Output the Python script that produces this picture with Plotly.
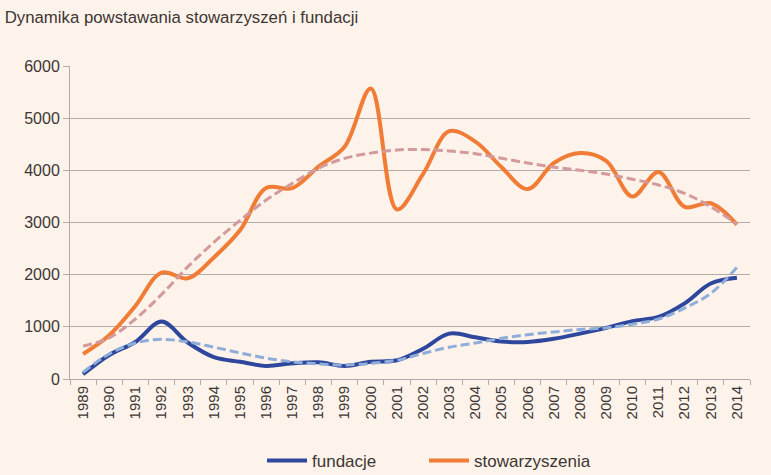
import plotly.graph_objects as go

years = [str(y) for y in range(1989, 2015)]

fundacje = [90, 460, 710, 1100, 700, 420, 330, 250, 300, 320, 250, 330, 360,
            580, 870, 800, 720, 710, 770, 870, 980, 1110, 1190, 1450, 1830, 1940]
stowarzyszenia = [480, 840, 1400, 2040, 1930, 2330, 2850, 3660, 3660, 4070, 4450, 5570, 3250,
                  3930, 4750, 4550, 4060, 3640, 4140, 4330, 4180, 3500, 3970, 3300, 3370, 2960]

trend_fundacje = [130, 480, 690, 760, 710, 610, 500, 400, 330, 290, 270, 300, 360,
                  490, 610, 690, 780, 850, 900, 950, 980, 1050, 1150, 1360, 1640, 2140]
trend_stow = [630, 790, 1150, 1620, 2150, 2620, 3040, 3430, 3750, 4040, 4230, 4330, 4390,
              4400, 4370, 4320, 4230, 4140, 4060, 4000, 3930, 3830, 3720, 3560, 3300, 2970]

BG = "#fdf3eb"
TXT = "#3d3633"
GRID = "#b3aba7"

fig = go.Figure()
fig.add_trace(go.Scatter(x=years, y=fundacje, mode="lines", name="fundacje", legend="legend",
                         line=dict(color="#2e479c", width=4, shape="spline", smoothing=1)))
fig.add_trace(go.Scatter(x=years, y=stowarzyszenia, mode="lines", name="stowarzyszenia", legend="legend2",
                         line=dict(color="#f07c35", width=4, shape="spline", smoothing=1)))
fig.add_trace(go.Scatter(x=years, y=trend_fundacje, mode="lines", showlegend=False,
                         line=dict(color="#8eadd9", width=3, dash="9px,4px", shape="spline", smoothing=1)))
fig.add_trace(go.Scatter(x=years, y=trend_stow, mode="lines", showlegend=False,
                         line=dict(color="#d49a9b", width=3, dash="9px,4px", shape="spline", smoothing=1)))

leg_common = dict(orientation="h", xanchor="left", y=-0.262, yanchor="middle",
                  font=dict(size=17, color=TXT), bgcolor="rgba(0,0,0,0)", itemwidth=40)

fig.update_layout(
    width=771, height=475,
    paper_bgcolor=BG, plot_bgcolor=BG,
    margin=dict(l=70, r=21, t=66, b=96, autoexpand=False),
    font=dict(family="Liberation Sans, Arial, sans-serif", color=TXT, size=15),
    title=dict(text="Dynamika powstawania stowarzyszeń i fundacji", xref="container", yref="container",
               x=0.006, xanchor="left", y=0.965, yanchor="middle",
               font=dict(size=16.8, color=TXT, family="Liberation Sans, Arial, sans-serif")),
    showlegend=True,
    legend=dict(x=0.2824, **leg_common),
    legend2=dict(x=0.5206, **leg_common),
)
fig.update_xaxes(type="category", tickangle=-90, tickson="boundaries", ticks="outside", ticklen=5,
                 tickcolor=GRID, showline=True, linecolor=GRID, linewidth=1, showgrid=False,
                 tickfont=dict(size=15, color=TXT), range=[-0.5, 25.5])
fig.update_yaxes(range=[0, 6000], dtick=1000, showgrid=True, gridcolor=GRID, gridwidth=1,
                 showline=True, linecolor=GRID, ticks="outside", ticklen=6, tickcolor=GRID,
                 zeroline=False, tickfont=dict(size=16, color=TXT))

fig.write_html("out.html", config={"displayModeBar": False},
               post_script="document.body.style.margin='0';")
